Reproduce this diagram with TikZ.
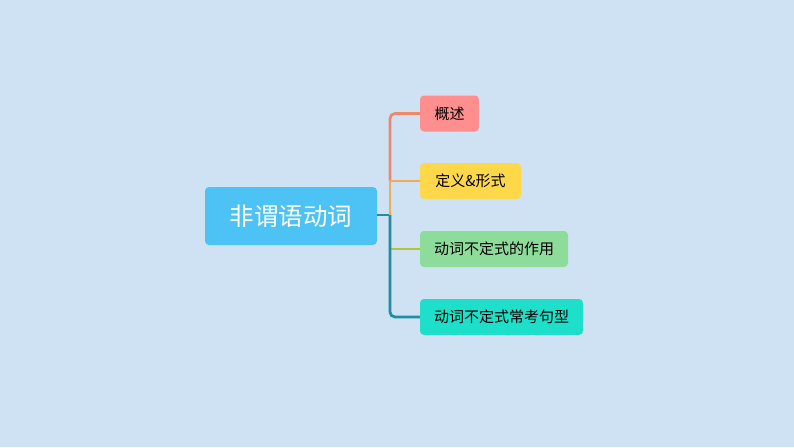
\documentclass[tikz,border=0pt]{standalone}
\usepackage{fontspec}
\newfontfamily\cjk{Noto Sans CJK SC}
\definecolor{bg}{HTML}{CFE2F3}
\definecolor{mainc}{HTML}{4DC3F5}
\definecolor{c1}{HTML}{FF8E8E}
\definecolor{c2}{HTML}{FFD84A}
\definecolor{c3}{HTML}{8EDC9A}
\definecolor{c4}{HTML}{1EE0CA}
\definecolor{l1}{HTML}{F0866A}
\definecolor{l2}{HTML}{F3A957}
\definecolor{l3}{HTML}{AEC53C}
\definecolor{l4}{HTML}{1B8FA3}
\begin{document}
\begin{tikzpicture}[x=1pt,y=-1pt,
  box/.style={rounded corners=4pt,inner sep=0pt,font=\cjk\fontsize{15}{15}\selectfont,text=black},
  link/.style={line width=2.7pt}]
\fill[bg] (0,0) rectangle (794,447);
\useasboundingbox (0,0) rectangle (794,447);
\node[box,fill=mainc,minimum width=172pt,minimum height=58pt,text=white,font=\cjk\fontsize{24.5}{24.5}\selectfont] (root) at (291,216) {非谓语动词};
\node[box,fill=c1,minimum width=59pt,minimum height=36pt] (a) at (449.5,113.5) {概述};
\node[box,fill=c2,minimum width=101pt,minimum height=36pt] (b) at (470.5,181) {定义\&形式};
\node[box,fill=c3,minimum width=148pt,minimum height=36pt] (c) at (494,249) {动词不定式的作用};
\node[box,fill=c4,minimum width=163pt,minimum height=36pt] (d) at (501.5,317) {动词不定式常考句型};
\coordinate (hub) at (390,215);
\draw[link,l4] (root.east |- hub) -- (hub);
\draw[link,l1,rounded corners=5pt] (hub |- b.west) -- (hub |- a.west) -- (a.west);
\draw[link,l2] (hub) -- (hub |- b.west) -- (b.west);
\draw[link,l3] (hub |- c.west) -- (c.west);
\draw[link,l4,rounded corners=5pt] (hub) -- (hub |- d.west) -- (d.west);
\end{tikzpicture}
\end{document}
